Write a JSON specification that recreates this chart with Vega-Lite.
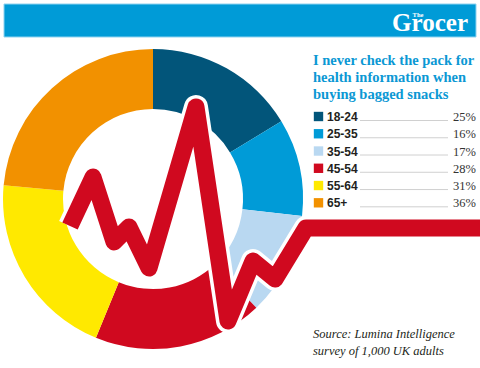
{
  "$schema": "https://vega.github.io/schema/vega-lite/v6.json",
  "width": 480,
  "height": 368,
  "autosize": {"type": "none"},
  "padding": 0,
  "background": "white",
  "config": {"view": {"stroke": null}},
  "datasets": {
    "ages": [
      {"age": "18-24", "pct": 25},
      {"age": "25-35", "pct": 16},
      {"age": "35-54", "pct": 17},
      {"age": "45-54", "pct": 28},
      {"age": "55-64", "pct": 31},
      {"age": "65+", "pct": 36}
    ],
    "pulse": [
      {"x": 70, "y": 226},
      {"x": 93, "y": 177},
      {"x": 114, "y": 242},
      {"x": 129, "y": 227},
      {"x": 149, "y": 268},
      {"x": 196, "y": 107},
      {"x": 228, "y": 321},
      {"x": 253, "y": 261},
      {"x": 275, "y": 279},
      {"x": 306, "y": 228},
      {"x": 480, "y": 228}
    ]
  },
  "layer": [
    {
      "layer": [
        {
          "data": {"values": [{}]},
          "mark": {"type": "rect", "fill": "#009bd7", "stroke": "#8fd3f0", "strokeWidth": 1},
          "encoding": {
            "x": {"datum": 4, "type": "quantitative", "scale": {"domain": [0, 480], "nice": false, "zero": false}, "axis": null},
            "x2": {"datum": 476},
            "y": {"datum": 4, "type": "quantitative", "scale": {"domain": [0, 368], "reverse": true, "nice": false, "zero": false}, "axis": null},
            "y2": {"datum": 37}
          }
        },
        {
          "data": {"values": [{}]},
          "mark": {"type": "text", "align": "right", "baseline": "alphabetic", "font": "Liberation Serif", "fontWeight": "bold", "fontSize": 25, "color": "white"},
          "encoding": {"x": {"datum": 468}, "y": {"datum": 31}, "text": {"value": "Grocer"}}
        },
        {
          "data": {"values": [{}]},
          "mark": {"type": "text", "align": "center", "baseline": "alphabetic", "font": "Liberation Serif", "fontWeight": "bold", "fontSize": 6.5, "color": "white"},
          "encoding": {"x": {"datum": 418}, "y": {"datum": 17}, "text": {"value": "The"}}
        },
        {
          "data": {"name": "ages"},
          "mark": {"type": "arc", "innerRadius": 90, "outerRadius": 150},
          "encoding": {
            "theta": {"field": "pct", "type": "quantitative", "stack": true},
            "order": {"field": "age", "type": "nominal"},
            "color": {
              "field": "age", "type": "nominal",
              "scale": {"domain": ["18-24", "25-35", "35-54", "45-54", "55-64", "65+"], "range": ["#02557a", "#009bd7", "#b9d8f1", "#d0091f", "#ffe900", "#f29100"]},
              "legend": null
            },
            "x": {"datum": 153},
            "y": {"datum": 199}
          }
        },
        {
          "data": {"name": "pulse"},
          "mark": {"type": "line", "stroke": "white", "strokeWidth": 24, "strokeJoin": "round", "strokeCap": "butt"},
          "encoding": {"x": {"field": "x", "type": "quantitative"}, "y": {"field": "y", "type": "quantitative"}}
        },
        {
          "data": {"name": "pulse"},
          "mark": {"type": "line", "stroke": "#d0091f", "strokeWidth": 17, "strokeJoin": "round", "strokeCap": "butt"},
          "encoding": {"x": {"field": "x", "type": "quantitative"}, "y": {"field": "y", "type": "quantitative"}}
        },
        {
          "data": {"values": [{}]},
          "mark": {"type": "text", "align": "left", "baseline": "alphabetic", "font": "Liberation Serif", "fontWeight": "bold", "fontSize": 14.5, "lineHeight": 17, "color": "#0b98d4"},
          "encoding": {"x": {"datum": 313}, "y": {"datum": 65}, "text": {"value": ["I never check the pack for", "health information when", "buying bagged snacks"]}}
        },
        {
          "data": {"values": [{}]},
          "mark": {"type": "text", "align": "left", "baseline": "alphabetic", "font": "Liberation Serif", "fontStyle": "italic", "fontSize": 12.5, "lineHeight": 17, "color": "#231f20"},
          "encoding": {"x": {"datum": 313}, "y": {"datum": 338}, "text": {"value": ["Source: Lumina Intelligence", "survey of 1,000 UK adults"]}}
        }
      ]
    },
    {
      "data": {"name": "ages"},
      "transform": [{"calculate": "datum.pct + '%'", "as": "label"}],
      "encoding": {
        "y": {"field": "age", "type": "nominal", "scale": {"type": "point", "domain": ["18-24", "25-35", "35-54", "45-54", "55-64", "65+"], "range": [121, 207.3], "padding": 0}, "axis": null}
      },
      "layer": [
        {
          "mark": {"type": "point", "shape": "square", "filled": true, "size": 88, "opacity": 1, "yOffset": -4.5},
          "encoding": {"x": {"datum": 318.5}, "color": {"field": "age", "type": "nominal", "legend": null}}
        },
        {
          "mark": {"type": "rule", "stroke": "#c4c4c4", "strokeWidth": 0.8, "yOffset": -0.5},
          "encoding": {"x": {"datum": 360}, "x2": {"datum": 448}}
        },
        {
          "mark": {"type": "text", "align": "left", "baseline": "alphabetic", "font": "Liberation Sans", "fontWeight": "bold", "fontSize": 12, "color": "#231f20"},
          "encoding": {"x": {"datum": 327}, "text": {"field": "age"}}
        },
        {
          "mark": {"type": "text", "align": "right", "baseline": "alphabetic", "font": "Liberation Serif", "fontSize": 12.5, "color": "#333333"},
          "encoding": {"x": {"datum": 476}, "text": {"field": "label"}}
        }
      ]
    }
  ],
  "resolve": {"scale": {"y": "independent"}}
}
